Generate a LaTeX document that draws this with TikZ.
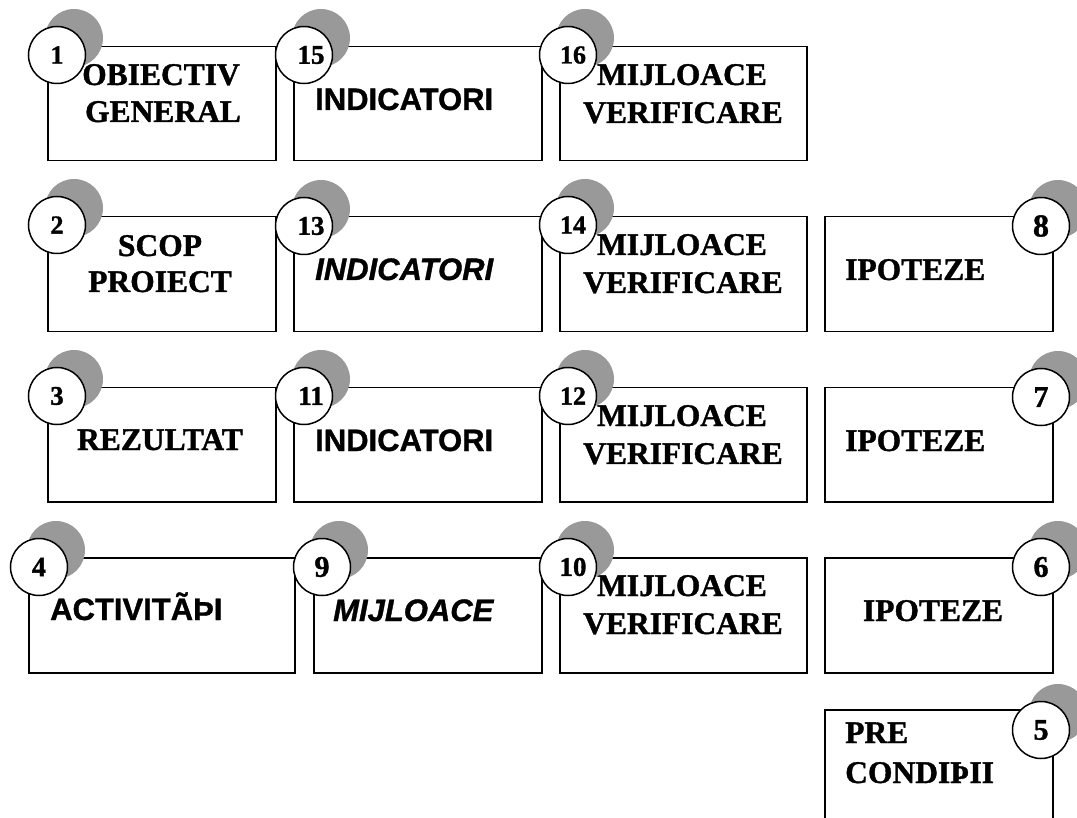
\documentclass[tikz,border=0pt]{standalone}
\usepackage{fontspec}
\setmainfont{Liberation Serif}[BoldFeatures={FakeBold=1.2}]
\newfontfamily\arialf{Liberation Sans}[BoldFeatures={FakeBold=1.1},BoldItalicFeatures={FakeBold=1.1}]
\definecolor{shade}{RGB}{153,153,153}
\tikzset{
 card/.style={draw, line width=1.5pt, fill=white, anchor=north west, inner sep=0pt},
 shadowdisc/.style={circle, fill=shade, minimum size=58pt, inner sep=0pt},
 numdisc/.style={circle, draw, line width=1.5pt, fill=white, minimum size=57pt, inner sep=0pt, font=\bfseries\fontsize{#1}{#1}\selectfont},
 numdisc/.default=24,
 tnr/.style={inner sep=0pt, anchor=base, font=\bfseries\fontsize{31.5}{37}\selectfont},
 tnrl/.style={inner sep=0pt, anchor=base west, font=\bfseries\fontsize{31.5}{37}\selectfont},
 ari/.style={inner sep=0pt, anchor=base west, font=\arialf\bfseries\fontsize{31}{37}\selectfont},
 arii/.style={inner sep=0pt, anchor=base west, font=\arialf\bfseries\itshape\fontsize{31}{37}\selectfont},
}
\newcommand\cardbox[5]{\node[card, minimum width=#4pt, minimum height=#5pt] (#1) at (#2,#3) {};}
\newcommand\numbadge[5]{%
  \node[shadowdisc] (s#1) at (#2+17,#3-17) {};
  \node[numdisc=#4] (n#1) at (#2,#3) {#5};}
\begin{document}
\begin{tikzpicture}[x=1pt,y=-1pt]
\useasboundingbox (0,0) rectangle (1077,818);
\clip (0,0) rectangle (1077,818);
% boxes
\cardbox{b1}{47}{46}{228}{114}
\cardbox{b15}{293}{46}{248}{114}
\cardbox{b16}{559}{46}{247}{114}
\cardbox{b2}{47}{216}{228}{115}
\cardbox{b13}{293}{216}{248}{115}
\cardbox{b14}{559}{216}{247}{115}
\cardbox{b8}{824}{216}{228}{115}
\cardbox{b3}{47}{387}{228}{114}
\cardbox{b11}{293}{387}{248}{114}
\cardbox{b12}{559}{387}{247}{114}
\cardbox{b7}{824}{387}{228}{114}
\cardbox{b4}{28}{557}{266}{115}
\cardbox{b9}{313}{557}{228}{115}
\cardbox{b10}{559}{557}{247}{115}
\cardbox{b6}{824}{557}{228}{115}
\cardbox{b5}{824}{709}{228}{150}
% texts
\node[tnr] (t1a) at (161,85) {OBIECTIV};
\node[tnr] (t1b) at (163,122) {GENERAL};
\node[ari] (t15) at (315,110) {INDICATORI};
\node[tnr] (t16a) at (682,85) {MIJLOACE};
\node[tnr] (t16b) at (683,123) {VERIFICARE};
\node[tnr] (t2a) at (160,256) {SCOP};
\node[tnr] (t2b) at (160,292) {PROIECT};
\node[arii] (t13) at (315,280) {INDICATORI};
\node[tnr] (t14a) at (682,255) {MIJLOACE};
\node[tnr] (t14b) at (683,293) {VERIFICARE};
\node[tnrl] (t8) at (845,280) {IPOTEZE};
\node[tnr] (t3) at (160,450) {REZULTAT};
\node[ari] (t11) at (315,451) {INDICATORI};
\node[tnr] (t12a) at (682,426) {MIJLOACE};
\node[tnr] (t12b) at (683,464) {VERIFICARE};
\node[tnrl] (t7) at (845,451) {IPOTEZE};
\node[ari] (t4) at (50,620) {ACTIVITÃÞI};
\node[arii] (t9) at (333,621) {MIJLOACE};
\node[tnr] (t10a) at (682,596) {MIJLOACE};
\node[tnr] (t10b) at (683,634) {VERIFICARE};
\node[tnr] (t6) at (933,621) {IPOTEZE};
\node[tnrl] (t5a) at (845,743) {PRE};
\node[tnrl] (t5b) at (845,783) {CONDIÞII};
% number badges
\numbadge{1}{57}{55}{26}{1}
\numbadge{15}{304}{55}{27}{\hspace{14pt}15}
\numbadge{16}{568}{55}{26}{\hspace{10pt}16}
\numbadge{2}{57}{225}{26}{2}
\numbadge{13}{304}{226}{27}{\hspace{14pt}13}
\numbadge{14}{568}{225}{26}{\hspace{10pt}14}
\numbadge{8}{1041}{226}{32}{8}
\numbadge{3}{57}{396}{27}{3}
\numbadge{11}{304}{396}{27}{\hspace{14pt}11}
\numbadge{12}{568}{396}{26}{\hspace{10pt}12}
\numbadge{7}{1041}{397}{30}{7}
\numbadge{4}{39}{567}{28}{4}
\numbadge{9}{322}{567}{30}{9}
\numbadge{10}{568}{567}{27}{\hspace{10pt}10}
\numbadge{6}{1041}{567}{30}{6}
\numbadge{5}{1041}{730}{30}{5}
\end{tikzpicture}
\end{document}
